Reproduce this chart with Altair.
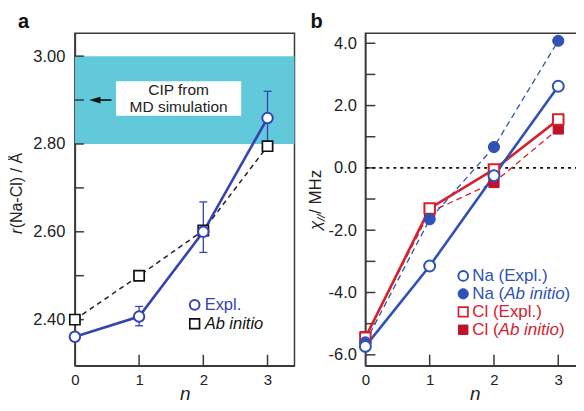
import altair as alt
import pandas as pd

# ---------------- data ----------------
n = [0, 1, 2, 3]

# panel a : r(Na-Cl) / Å
a_expl = [2.361, 2.407, 2.600, 2.859]
a_err_n = [1, 2, 3]
a_err_lo = [2.386, 2.553, 2.800]
a_err_hi = [2.430, 2.668, 2.920]
a_abinitio = [2.400, 2.500, 2.603, 2.795]
a_band = [2.80, 3.00]
a_ytick_labels = [2.40, 2.60, 2.80, 3.00]
a_yticks = [2.40, 2.50, 2.60, 2.70, 2.80, 2.90, 3.00]

# panel b : chi_// / MHz
b_na_expl = [-5.73, -3.15, -0.25, 2.62]
b_na_ab = [-5.60, -1.65, 0.67, 4.08]
b_cl_expl = [-5.45, -1.30, -0.05, 1.55]
b_cl_ab = [-5.42, -1.42, -0.47, 1.25]
b_ytick_labels = [-6, -4, -2, 0, 2, 4]
b_yticks = [-6, -5, -4, -3, -2, -1, 0, 1, 2, 3, 4]

x_tick_labels = [0, 1, 2, 3]
x_inner_ticks = [1, 2, 3]

# ---------------- style ----------------
FONT = "Liberation Sans"
FRAME = "#3a3a3a"
CYAN = "#62C9DA"
BLUE_A = "#3544B2"
BLUE = "#2F52B4"
RED = "#D3222E"
RED_F = "#C0102A"
WA, WB, H = 220, 219, 333

xa = alt.Scale(domain=[0, 3.42], nice=False, zero=False)
xb = alt.Scale(domain=[0, 3.40], nice=False, zero=False)
ya = alt.Scale(domain=[2.295, 3.052], nice=False, zero=False)
yb = alt.Scale(domain=[-6.35, 4.32], nice=False, zero=False)

ax_x = alt.Axis(values=x_tick_labels, format="d", ticks=False, grid=False,
                labelPadding=7, labelFontSize=15, labelFont=FONT, labelColor="#222",
                labelFlush=False, domainColor=FRAME, domainWidth=1.5,
                title="n", titleFont=FONT, titleFontSize=19, titleFontStyle="italic",
                titleFontWeight="normal", titleColor="#222", titlePadding=-3)
ax_ya = alt.Axis(values=a_ytick_labels, format=".2f", ticks=False, grid=False,
                 labelPadding=10, labelFontSize=16.5, labelFont=FONT, labelColor="#222",
                 labelFlush=False, domainColor=FRAME, domainWidth=1.5, title=None)
ax_yb = alt.Axis(values=b_ytick_labels, ticks=False, grid=False,
                 labelExpr="datum.value < 0 ? '-' + format(-datum.value, '.1f') : format(datum.value, '.1f')",
                 labelPadding=9, labelFontSize=16.5, labelFont=FONT, labelColor="#222",
                 labelFlush=False, domainColor=FRAME, domainWidth=1.5, title=None)

one = pd.DataFrame({"k": [0]})
df_a = pd.DataFrame({"n": n, "expl": a_expl, "ab": a_abinitio})
df_err = pd.DataFrame({"n": a_err_n, "lo": a_err_lo, "hi": a_err_hi})
df_b = pd.DataFrame({"n": n, "na_e": b_na_expl, "na_a": b_na_ab,
                     "cl_e": b_cl_expl, "cl_a": b_cl_ab})


def X(field, sc, ax):
    return alt.X(field, type="quantitative", scale=sc, axis=ax)


def Y(field, sc, ax):
    return alt.Y(field, type="quantitative", scale=sc, axis=ax)


def txt(s, x, y, size=16, color="#222", style="normal", weight="normal",
        align="left", baseline="middle", angle=0, dx=0, dy=0):
    kw = dict(align=align, baseline=baseline, fontSize=size, font=FONT,
              color=color, fontStyle=style, fontWeight=weight, dx=dx, dy=dy)
    if angle:
        kw["angle"] = angle
    return alt.Chart(one).mark_text(**kw).encode(
        x=alt.value(x), y=alt.value(y), text=alt.value(s))


def sym(x, y, shape, fill, stroke, size=110, sw=2):
    return alt.Chart(one).mark_point(shape=shape, filled=True, fill=fill, stroke=stroke,
                                     strokeWidth=sw, size=size, opacity=1).encode(
        x=alt.value(x), y=alt.value(y))


# ---------------- panel a ----------------
band = alt.Chart(pd.DataFrame({"lo": [a_band[0]], "hi": [a_band[1]]})).mark_rect(
    color=CYAN).encode(x=alt.value(0), x2=alt.value(WA),
                       y=Y("lo", ya, ax_ya), y2="hi")
box = alt.Chart(one).mark_rect(color="white").encode(
    x=alt.X(datum=0.64, scale=xa, axis=ax_x), x2=alt.datum(2.59),
    y=alt.Y(datum=2.864, scale=ya, axis=ax_ya), y2=alt.datum(2.943))
box_t1 = alt.Chart(one).mark_text(fontSize=15.5, font=FONT, color="#222", align="center",
                                  baseline="alphabetic").encode(
    x=alt.datum(1.615), y=alt.datum(2.912), text=alt.value("CIP from"))
box_t2 = alt.Chart(one).mark_text(fontSize=15.5, font=FONT, color="#222", align="center",
                                  baseline="alphabetic").encode(
    x=alt.datum(1.615), y=alt.datum(2.872), text=alt.value("MD simulation"))
arrow_line = alt.Chart(one).mark_rule(color="#111", strokeWidth=1.6).encode(
    x=alt.datum(0.32), x2=alt.datum(0.57), y=alt.datum(2.90))
arrow_head = alt.Chart(one).mark_point(shape="M-1,0L1,-0.6L1,0.6Z", filled=True,
                                       color="#111", size=130, opacity=1).encode(
    x=alt.datum(0.31), y=alt.datum(2.90))

tick_ya = alt.Chart(pd.DataFrame({"t": a_yticks})).mark_rule(
    color=FRAME, strokeWidth=1.5).encode(y=Y("t", ya, ax_ya), x=alt.value(0), x2=alt.value(9))
tick_xa = alt.Chart(pd.DataFrame({"t": x_inner_ticks})).mark_rule(
    color=FRAME, strokeWidth=1.5).encode(x=X("t", xa, ax_x), y=alt.value(H), y2=alt.value(H - 11))

ab_line = alt.Chart(df_a).mark_line(color="#222", strokeWidth=1.5, strokeDash=[5, 4]).encode(
    x=X("n", xa, ax_x), y=Y("ab", ya, ax_ya))
ex_line = alt.Chart(df_a).mark_line(color=BLUE_A, strokeWidth=2.6).encode(
    x=X("n", xa, ax_x), y=Y("expl", ya, ax_ya))
err_rule = alt.Chart(df_err).mark_rule(color=BLUE_A, strokeWidth=1.3).encode(
    x=X("n", xa, ax_x), y=Y("lo", ya, ax_ya), y2="hi")
err_cap_hi = alt.Chart(df_err).mark_tick(color=BLUE_A, orient="horizontal", size=8,
                                         thickness=1.3, opacity=1).encode(
    x=X("n", xa, ax_x), y=Y("hi", ya, ax_ya))
err_cap_lo = alt.Chart(df_err).mark_tick(color=BLUE_A, orient="horizontal", size=8,
                                         thickness=1.3, opacity=1).encode(
    x=X("n", xa, ax_x), y=Y("lo", ya, ax_ya))
ab_pts = alt.Chart(df_a).mark_point(shape="square", filled=True, fill="white", stroke="#111",
                                    strokeWidth=1.7, size=105, opacity=1).encode(
    x=X("n", xa, ax_x), y=Y("ab", ya, ax_ya))
ex_pts = alt.Chart(df_a).mark_point(shape="circle", filled=True, fill="white", stroke=BLUE_A,
                                    strokeWidth=2, size=110, opacity=1).encode(
    x=X("n", xa, ax_x), y=Y("expl", ya, ax_ya))

leg_a = [
    sym(120, 272, "circle", "white", BLUE_A, 95, 2),
    txt("Expl.", 130, 272, 16.5, BLUE_A),
    sym(120, 291, "square", "white", "#111", 95, 1.7),
    txt("Ab initio", 130, 291, 16.5, "#111", style="italic"),
]
title_a = [
    txt("a", -57, -5, 20, "#111", weight="bold", baseline="alphabetic"),
    txt("r", -53, 201, 16, "#222", style="italic", baseline="alphabetic", angle=270),
    txt("(Na-Cl) / Å", -53, 201, 16, "#222", baseline="alphabetic", angle=270, dx=5.6),
]

panel_a = alt.layer(band, tick_ya, tick_xa, box, box_t1, box_t2, arrow_line, arrow_head,
                    ab_line, ex_line, err_rule, err_cap_hi, err_cap_lo, ab_pts, ex_pts,
                    *leg_a, *title_a).properties(width=WA, height=H)

# ---------------- panel b ----------------
tick_yb = alt.Chart(pd.DataFrame({"t": b_yticks})).mark_rule(
    color=FRAME, strokeWidth=1.5).encode(y=Y("t", yb, ax_yb), x=alt.value(0), x2=alt.value(10))
tick_xb = alt.Chart(pd.DataFrame({"t": x_inner_ticks})).mark_rule(
    color=FRAME, strokeWidth=1.5).encode(x=X("t", xb, ax_x), y=alt.value(H), y2=alt.value(H - 11))
zero = alt.Chart(one).mark_rule(color="#111", strokeWidth=1.6, strokeDash=[3, 4]).encode(
    y=alt.Y(datum=0, scale=yb, axis=ax_yb), x=alt.value(0), x2=alt.value(WB))


def bline(field, color, dash, sw):
    kw = dict(color=color, strokeWidth=sw)
    if dash:
        kw["strokeDash"] = dash
    return alt.Chart(df_b).mark_line(**kw).encode(x=X("n", xb, ax_x), y=Y(field, yb, ax_yb))


def bpts(field, shape, fill, stroke, size, sw):
    return alt.Chart(df_b).mark_point(shape=shape, filled=True, fill=fill, stroke=stroke,
                                      strokeWidth=sw, size=size, opacity=1).encode(
        x=X("n", xb, ax_x), y=Y(field, yb, ax_yb))


lines_b = [
    bline("cl_a", RED, [6, 4], 1.3),
    bline("na_a", BLUE, [6, 4], 1.3),
    bline("cl_e", RED, None, 2.6),
    bline("na_e", BLUE, None, 2.6),
]
pts_b = [
    bpts("cl_a", "square", RED_F, RED_F, 105, 1),
    bpts("cl_e", "square", "white", RED, 110, 2),
    bpts("na_a", "circle", BLUE, BLUE, 125, 1),
    bpts("na_e", "circle", "white", BLUE, 120, 2),
]

LX, TX = 98, 107
rows = [243, 261, 279, 297]
FS = 17
w_na = 1.889 * FS
w_cl = 1.555 * FS
w_ab = 3.557 * FS
leg_b = [
    sym(LX, rows[0], "circle", "white", BLUE, 95, 2),
    txt("Na (Expl.)", TX, rows[0], FS, BLUE),
    sym(LX, rows[1], "circle", BLUE, BLUE, 105, 1),
    txt("Na (", TX, rows[1], FS, BLUE),
    txt("Ab initio", TX, rows[1], FS, BLUE, style="italic", dx=w_na),
    txt(")", TX, rows[1], FS, BLUE, dx=w_na + w_ab),
    sym(LX, rows[2], "square", "white", RED, 90, 1.7),
    txt("Cl (Expl.)", TX, rows[2], FS, RED),
    sym(LX, rows[3], "square", RED_F, RED_F, 90, 1),
    txt("Cl (", TX, rows[3], FS, RED),
    txt("Ab initio", TX, rows[3], FS, RED, style="italic", dx=w_cl),
    txt(")", TX, rows[3], FS, RED, dx=w_cl + w_ab),
]
title_b = [
    txt("b", -55, -5, 20, "#111", weight="bold", baseline="alphabetic"),
    txt("χ", -44, 197, 17, "#222", style="italic", baseline="alphabetic", angle=270),
    txt("//", -44, 197, 11.5, "#222", style="italic", baseline="alphabetic", angle=270, dx=9, dy=4),
    txt(" / MHz", -44, 197, 17, "#222", baseline="alphabetic", angle=270, dx=16),
]

panel_b = alt.layer(tick_yb, tick_xb, zero, *lines_b, *pts_b, *leg_b, *title_b).properties(
    width=WB, height=H)

chart = alt.hconcat(panel_a, panel_b, spacing=11).properties(
    padding={"left": 0, "top": 3, "right": -10, "bottom": 0}
).configure_view(stroke=FRAME, strokeWidth=1.5)

chart.save("out.html", embed_options={"renderer": "svg", "actions": False})
